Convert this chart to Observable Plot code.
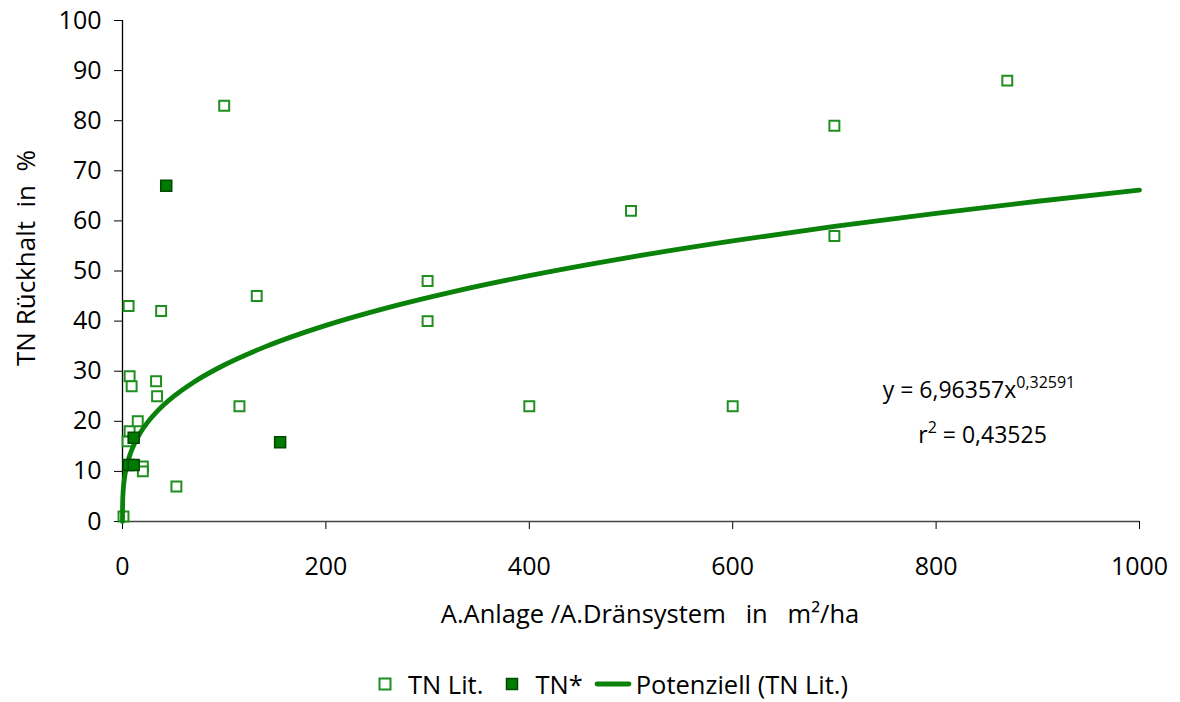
<!DOCTYPE html>
<html>
<head>
<meta charset="utf-8">
<script src="https://cdn.jsdelivr.net/npm/d3@7"></script>
<script src="https://cdn.jsdelivr.net/npm/@observablehq/plot@0.6"></script>
<style>
  body { margin: 0; background: #fff; font-family: "Open Sans", sans-serif; }
  #wrap { position: relative; width: 1180px; height: 702px; }
  #legend { position: absolute; left: 378px; top: 667px; display: flex; align-items: center; font-size: 25.5px; color: #000; white-space: nowrap; }
  #legend .it { display: flex; align-items: center; }
</style>
</head>
<body>
<div id="wrap"><div id="chart"></div><div id="legend"></div></div>
<script>
// TN Lit. (open squares)
const litX = [1, 5, 6, 7, 7, 9, 15, 20, 20, 33, 34, 38, 53, 100, 115, 132, 300, 300, 400, 500, 600, 700, 700, 870];
const litY = [1, 16, 43, 18, 29, 27, 20, 11, 10, 28, 25, 42, 7, 83, 23, 45, 48, 40, 23, 62, 23, 79, 57, 88];
// TN* (filled squares)
const starX = [6, 11, 11, 43, 155];
const starY = [11.3, 11.3, 16.7, 67, 15.8];
// Potenziell trend line from chart equation y = a * x^b
const trendA = 6.96357;
const trendB = 0.32591;
const trendX = [0, 0.05, 0.2, 0.5, 1, 2, 3, 5, 8, 12, 18, 25, 35, 50, 70, 100, 140, 200, 260, 330, 400, 500, 600, 700, 800, 900, 1000];
const xTicks = [0, 200, 400, 600, 800, 1000];
const yTicks = [0, 10, 20, 30, 40, 50, 60, 70, 80, 90, 100];
const xLabel = "A.Anlage /A.Dränsystem\u00a0\u00a0 in\u00a0\u00a0 m²/ha";
const yLabel = "TN Rückhalt\u00a0 in\u00a0 %";
const eqText = "y = 6,96357x", eqExp = "0,32591";
const r2Text = "r", r2Exp = "2", r2Val = " = 0,43525";
const legendLabels = ["TN Lit.", "TN*", "Potenziell (TN Lit.)"];

const lit = litX.map((x, i) => ({x, y: litY[i]}));
const star = starX.map((x, i) => ({x, y: starY[i]}));
const trend = trendX.map(x => ({x, y: trendA * Math.pow(x, trendB)}));

const openColor = "#1f8f1f", fillColor = "#007a00", fillStroke = "#004a00", lineColor = "#0a820a";

const chart = Plot.plot({
  width: 1180,
  height: 650,
  marginLeft: 122,
  marginRight: 41,
  marginTop: 20,
  marginBottom: 129,
  style: {fontFamily: "Open Sans, sans-serif", fontSize: "25px", color: "#000", background: "#fff"},
  x: {domain: [0, 1000], ticks: xTicks, tickSize: 8, tickPadding: 28, tickFormat: d => String(d), label: null},
  y: {domain: [0, 100], ticks: yTicks, tickSize: 8, tickPadding: 13, tickFormat: d => String(d), label: null},
  marks: [
    Plot.ruleX([0], {stroke: "#000", strokeWidth: 1.3}),
    Plot.ruleY([0], {stroke: "#444", strokeWidth: 1.3}),
    Plot.dot(lit, {x: "x", y: "y", symbol: "square", r: 5.6, fill: "#fff", stroke: openColor, strokeWidth: 2}),
    Plot.line(trend, {x: "x", y: "y", stroke: lineColor, strokeWidth: 4.8, curve: "monotone-x"}),
    Plot.dot(star, {x: "x", y: "y", symbol: "square", r: 6.2, fill: fillColor, stroke: fillStroke, strokeWidth: 1.5}),
    Plot.text([xLabel], {frameAnchor: "bottom", dy: 101, dx: 19, fontSize: 25.5, fill: "#000"})
  ]
});
document.getElementById("chart").appendChild(chart);

const sx = chart.scale("x"), sy = chart.scale("y");
const svg = d3.select(chart);

// y axis title
svg.append("text").attr("transform", "translate(26,258) rotate(-90)")
  .attr("text-anchor", "middle").attr("dy", "0.35em").attr("font-size", 26)
  .attr("fill", "#000").attr("font-family", "Open Sans, sans-serif").text(yLabel);

// equation annotation with superscripts
const eqPosX1 = 748, eqPosY1 = 26.1, eqPosX2 = 783, eqPosY2 = 17.2;
const t1 = svg.append("text").attr("x", sx.apply(eqPosX1)).attr("y", sy.apply(eqPosY1)).attr("text-anchor", "start")
  .attr("dy", "0.35em").attr("font-size", 23).attr("fill", "#000").attr("font-family", "Open Sans, sans-serif");
t1.append("tspan").text(eqText);
t1.append("tspan").attr("dy", -10).attr("font-size", 16).text(eqExp);
const t2 = svg.append("text").attr("x", sx.apply(eqPosX2)).attr("y", sy.apply(eqPosY2)).attr("text-anchor", "start")
  .attr("dy", "0.35em").attr("font-size", 23).attr("fill", "#000").attr("font-family", "Open Sans, sans-serif");
t2.append("tspan").text(r2Text);
t2.append("tspan").attr("dy", -10).attr("font-size", 16).text(r2Exp);
t2.append("tspan").attr("dy", 10).text(r2Val);

// legend
const lg = document.getElementById("legend");
const sw = [
  `<svg width="14" height="14" style="margin-right:16px"><rect x="1.5" y="1.5" width="11" height="11" fill="#fff" stroke="${openColor}" stroke-width="2"/></svg>`,
  `<svg width="14" height="14" style="margin-right:16px"><rect x="1.5" y="1.5" width="11" height="11" fill="${fillColor}" stroke="${fillStroke}" stroke-width="1.5"/></svg>`,
  `<svg width="38" height="10" style="margin-right:4px"><line x1="3" y1="5" x2="35" y2="5" stroke="${lineColor}" stroke-width="4.8" stroke-linecap="round"/></svg>`
];
const gaps = [0, 22, 11];
legendLabels.forEach((l, i) => {
  const d = document.createElement("div");
  d.className = "it";
  d.style.marginLeft = gaps[i] + "px";
  d.innerHTML = sw[i] + "<span>" + l + "</span>";
  lg.appendChild(d);
});
</script>
</body>
</html>
